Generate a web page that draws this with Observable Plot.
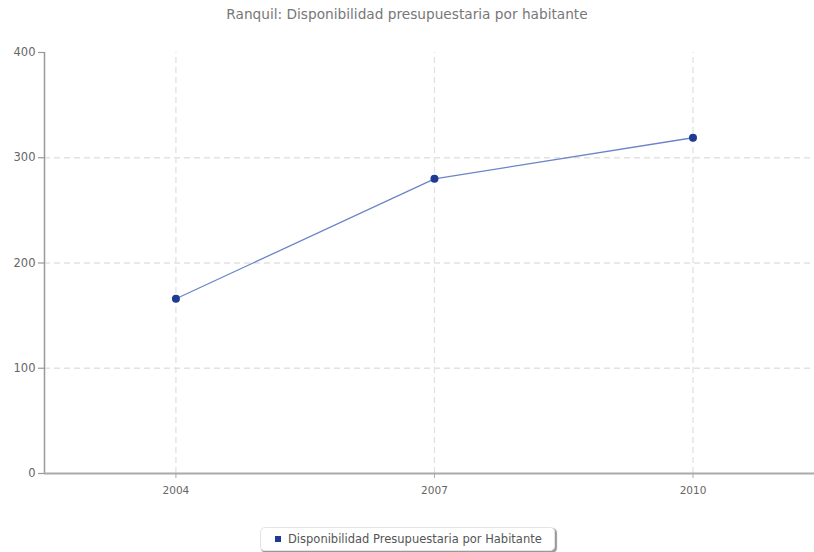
<!DOCTYPE html>
<html>
<head>
<meta charset="utf-8">
<script src="https://cdn.jsdelivr.net/npm/d3@7"></script>
<script src="https://cdn.jsdelivr.net/npm/@observablehq/plot@0.6"></script>
<style>
  body { margin: 0; background: #fff; font-family: "DejaVu Sans", Verdana, sans-serif; }
  #wrap { position: relative; width: 814px; height: 552px; }
  #title { position: absolute; left: 0; top: 6px; width: 814px; text-align: center; font-size: 13.7px; color: #777; }
  #chart { position: absolute; left: 0; top: 30px; }
  #legend { position: absolute; left: 260px; top: 527px; height: 22px; padding: 0 12px 0 14px; border: 1px solid #e4e4e4; border-radius: 5px; box-shadow: 1.5px 1.5px 1px #999; font-size: 11.5px; color: #555; line-height: 22px; white-space: nowrap; }
  #legend .sw { display: inline-block; width: 6px; height: 6px; background: #1f3a93; margin-right: 7px; vertical-align: 1px; }
</style>
</head>
<body>
<div id="wrap">
  <div id="title"></div>
  <div id="chart"></div>
  <div id="legend"><span class="sw"></span><span id="legtext"></span></div>
</div>
<script>
const titleText = "Ranquil: Disponibilidad presupuestaria por habitante";
const seriesName = "Disponibilidad Presupuestaria por Habitante";
const years = [2004, 2007, 2010];
const values = [166, 280, 319];
const yTicks = [0, 100, 200, 300, 400];
const yGrid = [100, 200, 300];

document.getElementById("title").textContent = titleText;
document.getElementById("legtext").textContent = seriesName;

const data = years.map((y, i) => ({year: y, value: values[i]}));

const chart = Plot.plot({
  width: 814,
  height: 490,
  marginLeft: 44,
  marginRight: 0,
  marginTop: 22,
  marginBottom: 47,
  style: {fontFamily: "'DejaVu Sans', Verdana, sans-serif", fontSize: "11px", color: "#666", background: "#fff"},
  x: {domain: [2002.475, 2011.41], ticks: years, tickFormat: d => String(d), label: null},
  y: {domain: [0, 400], ticks: yTicks, label: null},
  marks: [
    Plot.ruleY(yGrid, {stroke: "#e2e2e2", strokeDasharray: "6,4", strokeWidth: 1.3}),
    Plot.ruleX(years, {y1: 0, y2: 400, stroke: "#e2e2e2", strokeDasharray: "6,4", strokeWidth: 1.3}),
    Plot.axisY({ticks: yTicks, tickSize: 6, tickPadding: 3, stroke: "#999", fill: "#666", strokeWidth: 1.2, fontSize: 11.5}),
    Plot.axisX({ticks: years, tickFormat: d => String(d), tickSize: 5, tickPadding: 8, stroke: "#aaa", fill: "#666", fontSize: 10.5}),
    Plot.ruleX([2002.475], {stroke: "#999", strokeWidth: 1.5}),
    Plot.ruleY([0], {stroke: "#aaa", strokeWidth: 2}),
    Plot.line(data, {x: "year", y: "value", stroke: "#6c84c8", strokeWidth: 1.3}),
    Plot.dot(data, {x: "year", y: "value", r: 4, fill: "#1f3a93", stroke: "none"})
  ]
});
document.getElementById("chart").appendChild(chart);
</script>
</body>
</html>
